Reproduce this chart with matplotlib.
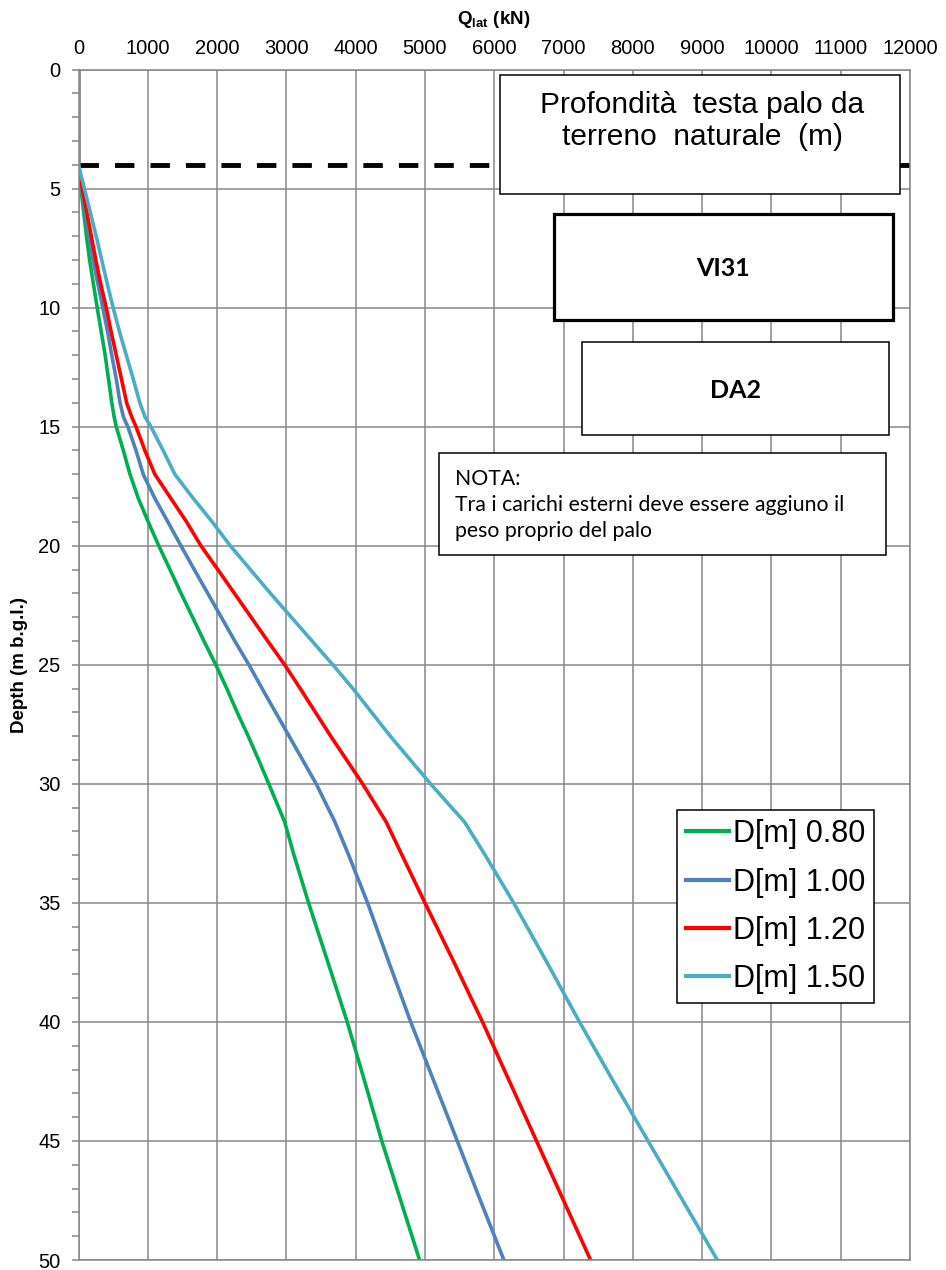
import matplotlib
matplotlib.use('Agg')
import matplotlib.pyplot as plt
from matplotlib.patches import Rectangle
from matplotlib.ticker import MultipleLocator

# ---------------- data ----------------
depth = [0, 4, 5, 6, 7, 8, 9, 10, 11, 12, 13, 14, 14.6, 15, 16, 17, 18, 19, 20,
         21, 22, 23, 24, 25, 26, 27, 28, 29, 30, 31.6, 33, 35, 37.5, 40, 42.5,
         45, 47.5, 50]

q_d080 = [0, 0, 35, 75, 115, 160, 215, 270, 327, 385, 433, 481, 515, 545, 647,
          743, 862, 1006, 1158, 1320, 1480, 1645, 1810, 1981, 2140, 2290, 2450,
          2600, 2746, 2975, 3110, 3320, 3600, 3878, 4130, 4377, 4650, 4922]

q_d100 = [0, 0, 45, 100, 155, 210, 280, 350, 420, 480, 545, 600, 649, 712, 830,
          934, 1100, 1290, 1478, 1670, 1865, 2060, 2255, 2459, 2650, 2845, 3040,
          3235, 3430, 3700, 3900, 4172, 4480, 4794, 5130, 5466, 5800, 6139]

q_d120 = [0, 0, 55, 120, 185, 250, 320, 400, 470, 545, 620, 695, 769, 830, 958,
          1102, 1330, 1560, 1766, 2010, 2250, 2490, 2730, 2975, 3200, 3420, 3640,
          3870, 4100, 4440, 4670, 5000, 5420, 5830, 6220, 6610, 7000, 7390]

q_d150 = [0, 0, 85, 170, 255, 335, 415, 500, 590, 690, 790, 885, 961, 1045, 1222,
          1390, 1653, 1930, 2190, 2480, 2770, 3070, 3370, 3670, 3960, 4230, 4500,
          4790, 5080, 5570, 5870, 6280, 6760, 7230, 7720, 8220, 8720, 9220]

series_labels = ['D[m] 0.80', 'D[m] 1.00', 'D[m] 1.20', 'D[m] 1.50']
series_values = [q_d080, q_d100, q_d120, q_d150]
series_colors = ['#00B050', '#4F81BD', '#FF0000', '#4BACC6']

pile_head_x = [0, 12000]
pile_head_y = [4, 4]

x_ticks = list(range(0, 12001, 1000))
y_ticks = list(range(0, 51, 5))

# ---------------- figure ----------------
W, H = 946, 1270
fig = plt.figure(figsize=(W / 100, H / 100), dpi=100)


def fx(px):
    return px / W


def fy(py):
    return 1 - py / H


plt.rcParams['mathtext.fontset'] = 'custom'
plt.rcParams['mathtext.rm'] = 'Liberation Sans'
plt.rcParams['mathtext.bf'] = 'Liberation Sans:bold'

AX_L, AX_R, AX_T, AX_B = 78.5, 910, 69.5, 1260
ax = fig.add_axes([fx(AX_L), fy(AX_B), (AX_R - AX_L) / W, (AX_B - AX_T) / H])

grid_c = '#878787'
ax.set_xlim(0, 12000)
ax.set_ylim(50, 0)
ax.set_xticks(x_ticks)
ax.set_yticks(y_ticks)
ax.yaxis.set_minor_locator(MultipleLocator(1))
ax.xaxis.tick_top()
ax.grid(True, which='major', color=grid_c, linewidth=1.1)
ax.set_axisbelow(True)
for s in ax.spines.values():
    s.set_color(grid_c)
    s.set_linewidth(1.1)

ax.tick_params(axis='x', which='both', length=0, pad=8, labelsize=14.5)
ax.tick_params(axis='y', which='major', length=5, width=1.1, color=grid_c,
               pad=8, labelsize=14.5, direction='out')
ax.tick_params(axis='y', which='minor', length=5, width=1.1, color=grid_c,
               direction='out')
for lab in ax.get_xticklabels() + ax.get_yticklabels():
    lab.set_fontfamily('Liberation Sans')

# pile head dashed line
ax.plot(pile_head_x, pile_head_y, color='black', lw=3.5, dashes=(4, 3.3),
        clip_on=True)

# curves
for vals, lab, col in zip(series_values, series_labels, series_colors):
    ax.plot(vals, depth, color=col, lw=2.6, label=lab, solid_joinstyle='round')

# axis titles
fig.text(fx(494), fy(19), r'$\mathbf{Q}_{\mathbf{lat}}$ (kN)', ha='center',
         va='center', fontsize=13.5, fontweight='bold', family='Liberation Sans')
fig.text(fx(20), fy(665), 'Depth (m b.g.l.)', ha='center', va='center',
         rotation=90, fontsize=13.5, fontweight='bold', family='Liberation Sans')

# legend
handles, labels = ax.get_legend_handles_labels()
leg = fig.legend(handles, labels, loc='upper left',
                 bbox_to_anchor=(fx(677), fy(810)), bbox_transform=fig.transFigure,
                 prop=dict(family='Liberation Sans', size=22), frameon=True,
                 fancybox=False, framealpha=1, edgecolor='black',
                 handlelength=1.4, handletextpad=0.13, borderpad=0.3,
                 labelspacing=0.6, borderaxespad=0)
leg.get_frame().set_linewidth(1.1)
for lh in leg.get_lines():
    lh.set_linewidth(3)


# text boxes
def box(x0, y0, x1, y1, lw):
    r = Rectangle((fx(x0), fy(y1)), (x1 - x0) / W, (y1 - y0) / H,
                  transform=fig.transFigure, facecolor='white',
                  edgecolor='black', linewidth=lw, zorder=5)
    fig.add_artist(r)


box(500, 75, 900, 194, 1.1)
fig.text(fx(702), fy(121), 'Profondità  testa palo da\nterreno  naturale  (m)',
         ha='center', va='center', fontsize=21.5, family='Liberation Sans',
         linespacing=1.2, zorder=6)

box(554, 214, 893, 320, 2.3)
fig.text(fx(723), fy(268), 'VI31', ha='center', va='center', fontsize=18,
         fontweight='bold', family='Lato', zorder=6)

box(582, 342, 889, 435, 1.1)
fig.text(fx(735), fy(390), 'DA2', ha='center', va='center', fontsize=18,
         fontweight='bold', family='Lato', zorder=6)

box(439, 453, 886, 555, 1.1)
fig.text(fx(455), fy(505), 'NOTA:\nTra i carichi esterni deve essere aggiuno il\npeso proprio del palo',
         ha='left', va='center', fontsize=15.3, family='Lato', linespacing=1.35,
         zorder=6)

fig.savefig('out.png', dpi=100)
